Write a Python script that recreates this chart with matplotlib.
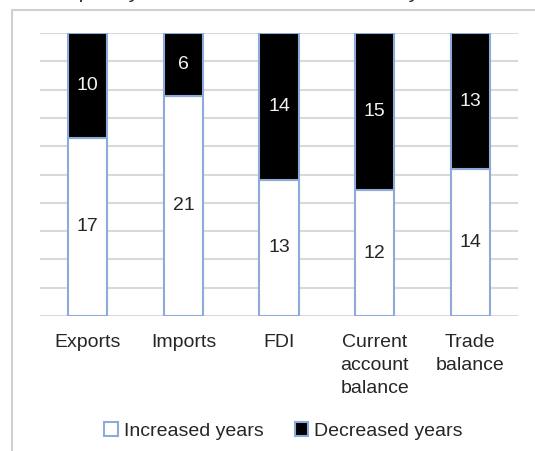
import numpy as np
import matplotlib
matplotlib.use("Agg")
from matplotlib import pyplot as plt
from matplotlib.patches import Rectangle, Patch

plt.rcParams['font.family'] = ['Liberation Sans', 'DejaVu Sans']

# data
categories = ["Exports", "Imports", "FDI", "Current\naccount\nbalance", "Trade\nbalance"]
increased = [17, 21, 13, 12, 14]
decreased = [10, 6, 14, 15, 13]
series_names = ["Increased years", "Decreased years"]
title = "Frequency of increased and decreased years"

inc = np.array(increased, dtype=float)
dec = np.array(decreased, dtype=float)
total = inc + dec
inc_share = inc / total
dec_share = dec / total

fig = plt.figure(figsize=(5.35, 4.51), dpi=100)
ax = fig.add_axes([0.0748, 0.2993, 0.8935, 0.6275])

x = np.arange(len(categories))
edge = '#8eaadb'
width = 0.41

ax.bar(x, inc_share, width, color='white', edgecolor=edge, linewidth=1.5,
       label=series_names[0], zorder=3)
ax.bar(x, dec_share, width, bottom=inc_share, color='black', edgecolor=edge,
       linewidth=1.5, label=series_names[1], zorder=3)

# value labels in the middle of each segment
for i in range(len(x)):
    ax.text(x[i], inc_share[i] / 2, str(increased[i]), ha='center', va='center',
            fontsize=14, color='#262626', zorder=4)
    ax.text(x[i], inc_share[i] + dec_share[i] / 2, str(decreased[i]), ha='center',
            va='center', fontsize=14, color='#f2f2f2', zorder=4)

ax.set_xlim(-0.5, len(x) - 0.5)
ax.set_ylim(0, 1)
ax.set_yticks(np.arange(0, 1.01, 0.1))
ax.set_yticklabels([])
ax.yaxis.grid(True, color='#d9d9d9', linewidth=1.5, zorder=0)
ax.set_axisbelow(True)
ax.tick_params(axis='both', length=0)
ax.set_xticks(x)
ax.set_xticklabels(categories, fontsize=14, color='#262626', linespacing=1.45)
ax.tick_params(axis='x', pad=13)
for s in ax.spines.values():
    s.set_visible(False)

handles = [Patch(facecolor='white', edgecolor=edge, linewidth=1.5),
           Patch(facecolor='black', edgecolor=edge, linewidth=1.5)]
fig.legend(handles, series_names, loc='center', bbox_to_anchor=(0.53, 0.044),
           ncol=2, frameon=False, fontsize=14, handlelength=0.7, handleheight=0.7,
           handletextpad=0.3, columnspacing=1.6, labelcolor='#262626')

# chart area border (runs off the right and bottom edges)
fig.patches.append(Rectangle((12 / 535, -0.05), 1.0, 1 - 10 / 451 + 0.05,
                             transform=fig.transFigure, fill=False,
                             edgecolor='#d0d0d0', linewidth=1.5))

# title, mostly cut off by the top edge as in the source image
fig.text(0.47, 1 + 2 / 451, title, ha='center', va='baseline', fontsize=15,
         style='italic', color='#262626')

fig.savefig('out.png', dpi=100)
